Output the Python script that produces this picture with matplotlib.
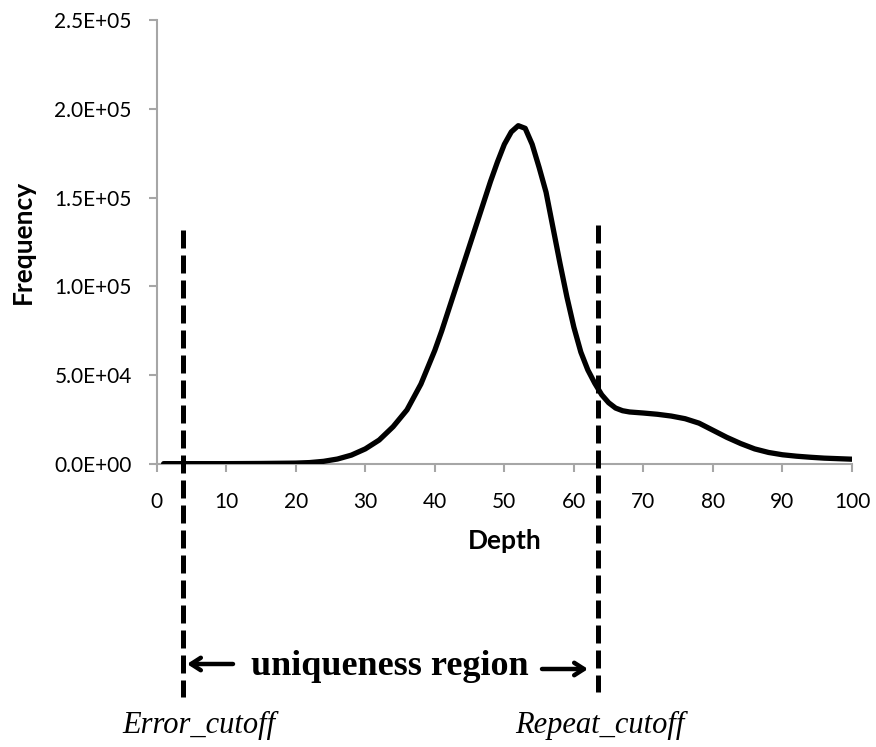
import matplotlib
matplotlib.use("Agg")
import matplotlib.pyplot as plt
from matplotlib.ticker import FuncFormatter

# depth vs frequency
depth = [1, 5, 10, 15, 20, 22, 24, 26, 28, 30, 32, 34, 36, 38,
         40, 41, 42, 43, 44, 45, 46, 47, 48, 49, 50, 51, 52, 53, 54, 55, 56,
         57, 58, 59, 60, 61, 62, 63, 64, 65, 66, 67, 68,
         70, 72, 74, 76, 78, 80, 82, 84, 86, 88, 90, 92, 94, 96, 98, 100]
freq = [200, 200, 200, 300, 500, 800, 1500, 2800, 5000, 8500, 13500, 21000,
        30500, 45000,
        64000, 75000, 87000, 99000, 111000, 123000, 135000, 147000, 159000,
        170000, 180000, 187000, 190500, 189000, 180000, 167000, 153000,
        133000, 113000, 94000, 77000, 63000, 53000, 45500, 39000, 34500,
        31500, 30000, 29300,
        28700, 28000, 27000, 25500, 23000, 19000, 15000, 11500, 8500, 6500,
        5200, 4400, 3800, 3300, 3000, 2700]

error_cutoff = 3.8
repeat_cutoff = 63.5

W, H = 876, 747
fig = plt.figure(figsize=(W / 100, H / 100), dpi=100)
ax = fig.add_axes([156.7 / W, 1 - 464 / H, (852 - 156.7) / W, (464 - 20) / H])

ax.plot(depth, freq, color="black", lw=3.8, solid_capstyle="round",
        solid_joinstyle="round", zorder=3)

# cutoff lines, running below the axis
ax.plot([error_cutoff, error_cutoff], [1.32e5, -1.31e5], color="black",
        lw=3.6, dashes=(3.6, 1.4), clip_on=False, zorder=4)
ax.plot([repeat_cutoff, repeat_cutoff], [1.346e5, -1.284e5], color="black",
        lw=3.6, dashes=(3.6, 1.4), clip_on=False, zorder=4)

ax.set_xlim(0, 100)
ax.set_ylim(0, 2.5e5)
ax.set_xticks(range(0, 101, 10))
ax.set_yticks([0, 5e4, 1e5, 1.5e5, 2e5, 2.5e5])
ax.yaxis.set_major_formatter(FuncFormatter(lambda v, p: f"{v:.1E}"))

for s in ["top", "right"]:
    ax.spines[s].set_visible(False)
for s in ["left", "bottom"]:
    ax.spines[s].set_color("#a6a6a6")
    ax.spines[s].set_linewidth(1.5)
ax.tick_params(axis="both", colors="#a6a6a6", width=1.5, length=6,
               labelcolor="black", labelsize=15)
ax.tick_params(axis="x", pad=14)
ax.tick_params(axis="y", pad=12)
for lab in ax.get_xticklabels() + ax.get_yticklabels():
    lab.set_family("Lato")

fig.text(23 / W, 1 - 242 / H, "Frequency", rotation=90, ha="center",
         va="center", fontsize=19, fontweight="bold", family="Lato")
fig.text(505 / W, 1 - 541 / H, "Depth", ha="center", va="center",
         fontsize=19, fontweight="bold", family="Lato")

fig.text(390 / W, 1 - 675 / H, "uniqueness region", ha="center",
         va="baseline", fontsize=26, fontweight="bold", family="Liberation Serif")
fig.text(199 / W, 1 - 733 / H, "Error_cutoff", ha="center", va="baseline",
         fontsize=22, style="italic", family="Liberation Serif")
fig.text(600 / W, 1 - 733 / H, "Repeat_cutoff", ha="center", va="baseline",
         fontsize=22, style="italic", family="Liberation Serif")

arrow = dict(arrowstyle="->,head_length=0.7,head_width=0.45", lw=3.2,
             color="black", shrinkA=0, shrinkB=0)
fig.add_artist(plt.Annotation("", xy=(187 / W, 1 - 664 / H),
                              xytext=(233 / W, 1 - 664 / H),
                              xycoords="figure fraction",
                              arrowprops=arrow))
fig.add_artist(plt.Annotation("", xy=(588 / W, 1 - 669 / H),
                              xytext=(542 / W, 1 - 669 / H),
                              xycoords="figure fraction",
                              arrowprops=arrow))

fig.savefig("out.png", dpi=100)
